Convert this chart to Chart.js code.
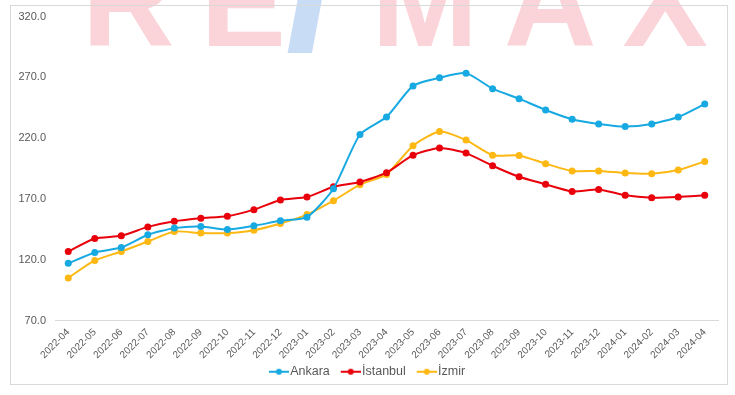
<!DOCTYPE html>
<html>
<head>
<meta charset="utf-8">
<script src="https://cdn.jsdelivr.net/npm/chart.js@4.4.1/dist/chart.umd.min.js"></script>
<style>
  body { margin: 0; background: #fff; width: 735px; height: 395px; overflow: hidden; position: relative; }
  #mark {
    position: absolute; left: 82px; top: -62px;
    font-family: "Liberation Sans", Arial, sans-serif; font-weight: bold;
    font-size: 128px; line-height: 1; letter-spacing: 26px;
    color: #fad4d9; white-space: nowrap;
  }
  #mark .e { letter-spacing: 6px; }
  #mark .sl { color: #c9dcf6; -webkit-text-stroke: 9px #c9dcf6; letter-spacing: 44px; }
  #box {
    position: absolute; left: 10px; top: 5px; width: 716px; height: 378px;
    border: 1px solid #d9d9d9;
  }
  #chart { position: absolute; left: 11px; top: 1px; }
</style>
</head>
<body>
<div id="mark">R<span class="e">E</span><span class="sl">/</span>MAX</div>
<div id="box"></div>
<canvas id="chart" width="716" height="387"></canvas>
<script>
// months shown on the x axis
const months = ['2022-04','2022-05','2022-06','2022-07','2022-08','2022-09','2022-10','2022-11','2022-12',
  '2023-01','2023-02','2023-03','2023-04','2023-05','2023-06','2023-07','2023-08','2023-09','2023-10',
  '2023-11','2023-12','2024-01','2024-02','2024-03','2024-04'];

// index values
const ankara   = [117, 126, 130, 140.5, 146, 147.3, 144.8, 147.9, 152, 155, 178.4, 223, 237.4, 263, 269.7, 273.5,
                  260.7, 252.5, 243.2, 235.6, 231.7, 229.6, 231.7, 237.4, 248.1];
const istanbul = [126.8, 137.5, 139.7, 147, 151.7, 154.2, 155.8, 161.2, 169.2, 171.6, 180, 184, 191.6, 206, 212, 207.7,
                  197.3, 188.2, 182, 176.2, 177.8, 173, 171, 171.6, 173];
const izmir    = [105, 119.4, 126.8, 135, 143.2, 141.9, 141.9, 144.3, 149.8, 157.1, 168.6, 181.7, 190.2, 213.7, 225.5, 218.4,
                  206, 205.8, 199, 193, 193, 191.3, 190.8, 193.8, 200.9];

const yMin = 70, yMax = 320, yStep = 50;

const textColor = '#595959';
const fontFam = '"Liberation Sans", Arial, sans-serif';

// line-with-dot marker for the legend (left 10px left blank so the text sits close)
function legendMarker(color) {
  const c = document.createElement('canvas');
  c.width = 30; c.height = 8;
  const g = c.getContext('2d');
  g.strokeStyle = color; g.lineWidth = 2;
  g.beginPath(); g.moveTo(10, 4); g.lineTo(30, 4); g.stroke();
  g.fillStyle = color;
  g.beginPath(); g.arc(20, 4, 3, 0, Math.PI * 2); g.fill();
  return c;
}

function series(label, data, color) {
  return {
    label: label,
    data: data,
    borderColor: color,
    backgroundColor: color,
    borderWidth: 2,
    pointRadius: 3.5,
    pointBorderWidth: 0,
    pointHoverRadius: 4,
    tension: 0.2,
    fill: false,
    marker: legendMarker(color)
  };
}

const ctx = document.getElementById('chart').getContext('2d');
const chart = new Chart(ctx, {
  type: 'line',
  data: {
    labels: months,
    datasets: [
      series('Ankara', ankara, '#17a9e1'),
      series('İstanbul', istanbul, '#e8000b'),
      series('İzmir', izmir, '#fdb813')
    ]
  },
  options: {
    responsive: false,
    animation: false,
    layout: { padding: { top: 0, right: 9, left: 0, bottom: 0 } },
    scales: {
      x: {
        offset: true,
        grid: { display: false, drawTicks: false },
        border: { display: true, color: '#d9d9d9', width: 1 },
        ticks: {
          autoSkip: false, maxRotation: 45, minRotation: 45,
          color: textColor, font: { family: fontFam, size: 10 }, padding: 6
        },
        afterFit: function (scale) { scale.height = 39; }
      },
      y: {
        min: yMin, max: yMax,
        grid: { display: false, drawTicks: false },
        border: { display: false },
        ticks: {
          stepSize: yStep, padding: 9, color: textColor,
          font: { family: fontFam, size: 11 },
          callback: function (v) { return v.toFixed(1); }
        },
        afterFit: function (scale) { scale.width = 44; }
      }
    },
    plugins: {
      tooltip: { enabled: false },
      legend: {
        position: 'bottom',
        labels: {
          usePointStyle: true, pointStyleWidth: 20, padding: 6,
          color: textColor, font: { family: fontFam, size: 12.5 },
          generateLabels: function (ch) {
            return ch.data.datasets.map(function (ds, i) {
              return {
                text: ds.label, pointStyle: ds.marker, fillStyle: ds.borderColor,
                strokeStyle: ds.borderColor, lineWidth: 0, datasetIndex: i, fontColor: textColor
              };
            });
          }
        }
      }
    }
  }
});
</script>
</body>
</html>
